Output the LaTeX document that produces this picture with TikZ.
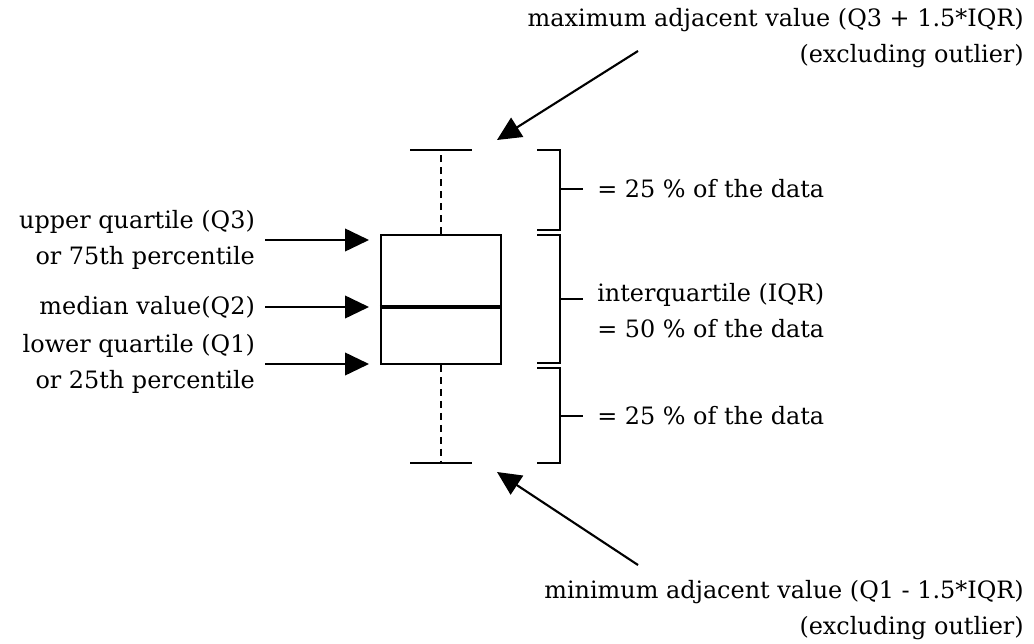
\documentclass[tikz,border=0pt]{standalone}
\usepackage{fontspec}
\setmainfont{DejaVu Serif}
\usetikzlibrary{positioning,calc,arrows.meta}
\tikzset{
    every node/.style={font=\fontsize{17}{25.5}\selectfont},
    boxplot/.style={draw, line width=1.5pt, minimum width=3cm, minimum height=3.225cm, inner sep=0pt},
    median/.style={line width=3.5pt},
    whisker/.style={line width=1.5pt, dash pattern=on 5pt off 3.5pt},
    whiskerend/.style={line width=1.5pt},
    brace/.style={line width=1.5pt},
    leftlabel/.style={align=right, anchor=east, inner sep=7pt},
    rightlabel/.style={align=left, anchor=west, inner sep=0pt},
    arrow/.style={-{Triangle[length=17pt, width=16pt]}, line width=1.5pt},
}

\begin{document}
\begin{tikzpicture}[x=0.025cm, y=-0.025cm]
\useasboundingbox (0,0) rectangle (1034,644);
% the box with median and whiskers
\node[boxplot] (box) at (441,299.5) {};
\draw[median] ($(box.west)+(0,7.5)$) -- ($(box.east)+(0,7.5)$);
\coordinate (maxv) at (441,150);
\coordinate (minv) at (441,463);
\draw[whisker] (box.north) -- (maxv);
\draw[whisker] (box.south) -- (minv);
\draw[whiskerend] ($(maxv)+(-31,0)$) -- ($(maxv)+(31,0)$);
\draw[whiskerend] ($(minv)+(-31,0)$) -- ($(minv)+(31,0)$);

% brackets on the right
\draw[brace] (537,150) -- (560,150) -- (560,230) -- (537,230);
\draw[brace] (537,235) -- (560,235) -- (560,363) -- (537,363);
\draw[brace] (537,368) -- (560,368) -- (560,463) -- (537,463);
\node[rightlabel] (top25) at (597,189) {= 25 \% of the data};
\node[rightlabel] (iqr) at (597,311) {interquartile (IQR)\\= 50 \% of the data};
\node[rightlabel] (bot25) at (597,416) {= 25 \% of the data};
\draw[brace] (560,189) -- ($(top25.west)+(-14,0)$);
\draw[brace] (560,299) -- ($(iqr.west)+(-14,-12)$);
\draw[brace] (560,416) -- ($(bot25.west)+(-14,0)$);

% quartile labels on the left
\node[leftlabel] (uq) at (265,240) {upper quartile (Q3)\\or 75th percentile};
\node[leftlabel] (med) at (265,307) {median value(Q2)};
\node[leftlabel] (lq) at (265,364) {lower quartile (Q1)\\or 25th percentile};
\coordinate (uqtip) at (369,240);
\coordinate (medtip) at (369,307);
\coordinate (lqtip) at (369,364);
\draw[arrow] (uq.east) -- (uqtip);
\draw[arrow] (med.east) -- (medtip);
\draw[arrow] (lq.east) -- (lqtip);

% adjacent values
\node[align=right, anchor=north east, inner sep=0pt] (maxlbl) at (1024,8) {maximum adjacent value (Q3 + 1.5*IQR)\\(excluding outlier)};
\node[align=right, anchor=south east, inner sep=0pt] (minlbl) at (1024,640) {minimum adjacent value (Q1 - 1.5*IQR)\\(excluding outlier)};
\coordinate (maxtail) at (638,51);
\coordinate (maxtip) at (497,140);
\coordinate (mintail) at (638,565);
\coordinate (mintip) at (497,472);
\draw[arrow] (maxtail) -- (maxtip);
\draw[arrow] (mintail) -- (mintip);
\end{tikzpicture}
\end{document}
